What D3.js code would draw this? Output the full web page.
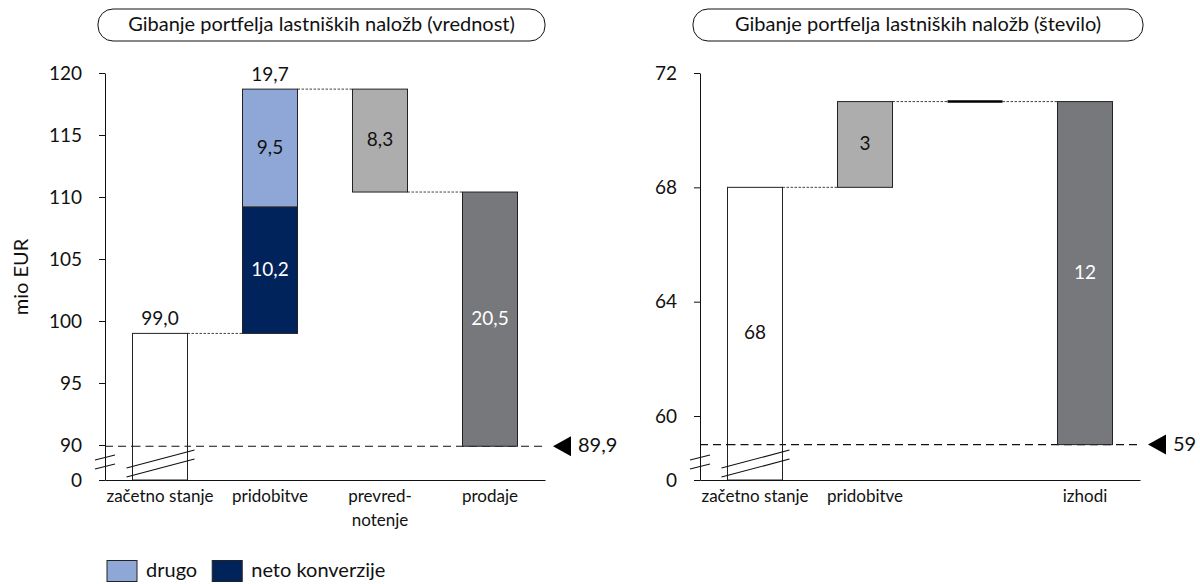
<!DOCTYPE html>
<html><head><meta charset="utf-8">
<script src="https://cdn.jsdelivr.net/npm/d3@7"></script>
<style>
body{margin:0;background:#fff}
svg{display:block}
text{font-family:Lato,"Open Sans",sans-serif;fill:#111}
</style>
</head><body><svg id="c" width="1200" height="584"></svg>
<script>
// ---------- data ----------
const valueTitle = "Gibanje portfelja lastniških naložb (vrednost)";
const countTitle = "Gibanje portfelja lastniških naložb (število)";
const valueCategories = ["začetno stanje", "pridobitve", "prevred-notenje", "prodaje"];
const valueStart = 99.0;
const valueNetoKonverzije = 10.2;
const valueDrugo = 9.5;
const valueAcquisitions = 19.7;
const valueRevaluation = -8.3;
const valueSales = -20.5;
const valueEnd = 89.9;
const valueTicks = [0, 90, 95, 100, 105, 110, 115, 120];
const valueAxisLabel = "mio EUR";

const countCategories = ["začetno stanje", "pridobitve", "", "izhodi"];
const countStart = 68;
const countAcquisitions = 3;
const countOther = 0;
const countExits = -12;
const countEnd = 59;
const countTicks = [0, 60, 64, 68, 72];

const legendLabels = ["drugo", "neto konverzije"];

// ---------- styles ----------
const C = {white:"#ffffff", blue:"#8FA7D6", navy:"#00235B", light:"#ADADAD", dark:"#77787B", stroke:"#222"};
const fmt1 = v => d3.format(".1f")(Math.abs(v)).replace(".", ",");
const fmt0 = v => d3.format("d")(Math.abs(v));

const svg = d3.select("#c");

function drawChart(o) {
  const g = svg.append("g");
  const x = d3.scaleBand().domain(o.cats).range(o.xr).paddingInner(0.5).paddingOuter(0.25);
  const y = d3.scaleLinear().domain(o.yd).range([480, o.yBreak, 73]);
  const bw = x.bandwidth();

  // title box
  g.append("rect").attr("x", o.xr[0] - 7).attr("y", 9).attr("width", o.xr[1] - o.xr[0] + 7 + o.titleExtra)
    .attr("height", 32).attr("rx", 15).attr("fill", "none").attr("stroke", "#111").attr("stroke-width", 1);
  g.append("text").attr("x", (o.xr[0] - 7 + o.xr[1] + o.titleExtra) / 2).attr("y", 26)
    .attr("text-anchor", "middle").attr("dominant-baseline", "middle").style("font-size", "20px").text(o.title);

  // dashed end line
  const yEnd = y(o.end);
  g.append("line").attr("x1", o.xr[0]).attr("x2", o.xr[1]).attr("y1", yEnd).attr("y2", yEnd)
    .attr("stroke", "#111").attr("stroke-width", 1.1).attr("stroke-dasharray", "8,5");

  // connectors
  o.connectors.forEach(c => {
    g.append("line").attr("x1", x(c.from) + bw).attr("x2", x(c.to)).attr("y1", y(c.v)).attr("y2", y(c.v))
      .attr("stroke", "#444").attr("stroke-width", 1).attr("stroke-dasharray", "2.5,1.5");
  });

  // bars
  o.segments.forEach(s => {
    const top = y(Math.max(s.y0, s.y1)), bot = y(Math.min(s.y0, s.y1));
    if (bot - top < 0.5) {
      g.append("line").attr("x1", x(s.cat)).attr("x2", x(s.cat) + bw).attr("y1", top).attr("y2", top)
        .attr("stroke", "#000").attr("stroke-width", 2.5);
      return;
    }
    g.append("rect").attr("x", x(s.cat)).attr("y", top).attr("width", bw).attr("height", bot - top)
      .attr("fill", s.fill).attr("stroke", C.stroke).attr("stroke-width", 1);
    if (s.label) {
      g.append("text").attr("x", x(s.cat) + bw / 2).attr("y", (top + bot) / 2 + 1)
        .attr("text-anchor", "middle").attr("dominant-baseline", "middle")
        .style("font-size", "19px").style("fill", s.labelColor || "#111").text(s.label);
    }
  });
  // dashed line over white start bar
  g.append("line").attr("x1", x(o.cats[0])).attr("x2", x(o.cats[0]) + bw).attr("y1", yEnd).attr("y2", yEnd)
    .attr("stroke", "#111").attr("stroke-width", 1.1).attr("stroke-dasharray", "8,5");

  // labels above
  o.aboveLabels.forEach(a => {
    g.append("text").attr("x", x(a.cat) + bw / 2).attr("y", y(a.v) - 8)
      .attr("text-anchor", "middle").style("font-size", "19px").text(a.label);
  });

  // y axis
  const ya = g.append("g").attr("transform", `translate(${o.xr[0]},0)`)
    .call(d3.axisLeft(y).tickValues(o.ticks).tickSize(6).tickSizeOuter(0).tickPadding(17).tickFormat(d3.format("d")));
  ya.selectAll("path,line").attr("stroke", "#111");
  ya.selectAll("text").style("font-size", "19px").style("font-family", "Lato,sans-serif").attr("fill", "#111");

  // x axis
  const xa = g.append("g").attr("transform", "translate(0,480)")
    .call(d3.axisBottom(x).tickSize(0).tickSizeOuter(0).tickPadding(10));
  xa.select(".domain").attr("stroke", "#111");
  xa.selectAll("text").style("font-size", "17px").style("font-family", "Lato,sans-serif").attr("fill", "#111")
    .each(function(d) {
      const t = d3.select(this);
      if (d.indexOf("-") > 0) {
        const parts = d.split("-");
        t.text(null);
        t.append("tspan").attr("x", 0).attr("dy", "0.71em").text(parts[0] + "-");
        t.append("tspan").attr("x", 0).attr("dy", "1.4em").text(parts[1]);
        t.attr("dy", null);
      }
    });

  // axis break marks
  const ax = o.xr[0];
  [[460, 455], [469, 464]].forEach(p => {
    g.append("line").attr("x1", ax - 10).attr("x2", ax + 10).attr("y1", p[0]).attr("y2", p[1])
      .attr("stroke", "#111").attr("stroke-width", 1.2);
  });
  const bx = x(o.cats[0]);
  [[468, 450], [477, 459]].forEach(p => {
    g.append("line").attr("x1", bx - 6).attr("x2", bx + bw + 7).attr("y1", p[0]).attr("y2", p[1])
      .attr("stroke", "#111").attr("stroke-width", 1.2);
  });

  // end marker
  const ex = o.xr[1] + 8;
  g.append("path").attr("d", `M${ex},${yEnd} L${ex + 18},${yEnd - 10} L${ex + 18},${yEnd + 10} Z`).attr("fill", "#000");
  g.append("text").attr("x", ex + 25).attr("y", yEnd + 1).attr("dominant-baseline", "middle")
    .style("font-size", "20px").text(o.endLabel);

  return {x, y};
}

// left chart: value
const vAcqTop = valueStart + valueNetoKonverzije + valueDrugo;
const vRevEnd = vAcqTop + valueRevaluation;
drawChart({
  title: valueTitle, cats: valueCategories, xr: [105, 545], titleExtra: 0,
  yd: [0, 89, 120], yBreak: 457.4, ticks: valueTicks, end: valueEnd, endLabel: fmt1(valueEnd),
  segments: [
    {cat: valueCategories[0], y0: 0, y1: valueStart, fill: C.white},
    {cat: valueCategories[1], y0: valueStart, y1: valueStart + valueNetoKonverzije, fill: C.navy, label: fmt1(valueNetoKonverzije), labelColor: "#fff"},
    {cat: valueCategories[1], y0: valueStart + valueNetoKonverzije, y1: vAcqTop, fill: C.blue, label: fmt1(valueDrugo)},
    {cat: valueCategories[2], y0: vAcqTop, y1: vRevEnd, fill: C.light, label: fmt1(valueRevaluation)},
    {cat: valueCategories[3], y0: vRevEnd, y1: vRevEnd + valueSales, fill: C.dark, label: fmt1(valueSales), labelColor: "#fff"}
  ],
  connectors: [
    {from: valueCategories[0], to: valueCategories[1], v: valueStart},
    {from: valueCategories[1], to: valueCategories[2], v: vAcqTop},
    {from: valueCategories[2], to: valueCategories[3], v: vRevEnd}
  ],
  aboveLabels: [
    {cat: valueCategories[0], v: valueStart, label: fmt1(valueStart)},
    {cat: valueCategories[1], v: vAcqTop, label: fmt1(valueAcquisitions)}
  ]
});

// right chart: count
const cAcqTop = countStart + countAcquisitions;
const cOtherTop = cAcqTop + countOther;
drawChart({
  title: countTitle, cats: countCategories, xr: [700, 1140], titleExtra: 3,
  yd: [0, 58, 72], yBreak: 473.2, ticks: countTicks, end: countEnd, endLabel: fmt0(countEnd),
  segments: [
    {cat: countCategories[0], y0: 0, y1: countStart, fill: C.white, label: fmt0(countStart)},
    {cat: countCategories[1], y0: countStart, y1: cAcqTop, fill: C.light, label: fmt0(countAcquisitions)},
    {cat: countCategories[2], y0: cAcqTop, y1: cOtherTop, fill: C.light},
    {cat: countCategories[3], y0: cOtherTop, y1: cOtherTop + countExits, fill: C.dark, label: fmt0(countExits), labelColor: "#fff"}
  ],
  connectors: [
    {from: countCategories[0], to: countCategories[1], v: countStart},
    {from: countCategories[1], to: countCategories[2], v: cAcqTop},
    {from: countCategories[2], to: countCategories[3], v: cOtherTop}
  ],
  aboveLabels: []
});

// y axis label
svg.append("text").attr("transform", "translate(23,277) rotate(-90)").attr("text-anchor", "middle")
  .attr("dominant-baseline", "middle").style("font-size", "20px").text(valueAxisLabel);

// legend
const legendColors = [C.blue, C.navy];
const lg = svg.append("g");
let lx = 107;
legendLabels.forEach((l, i) => {
  lg.append("rect").attr("x", lx).attr("y", 560.5).attr("width", 30).attr("height", 21)
    .attr("fill", legendColors[i]).attr("stroke", C.stroke).attr("stroke-width", 1);
  const t = lg.append("text").attr("x", lx + 39).attr("y", 571.5).attr("dominant-baseline", "middle")
    .style("font-size", "20px").text(l);
  lx += 39 + t.node().getComputedTextLength() + 15;
});
</script>
</body></html>
